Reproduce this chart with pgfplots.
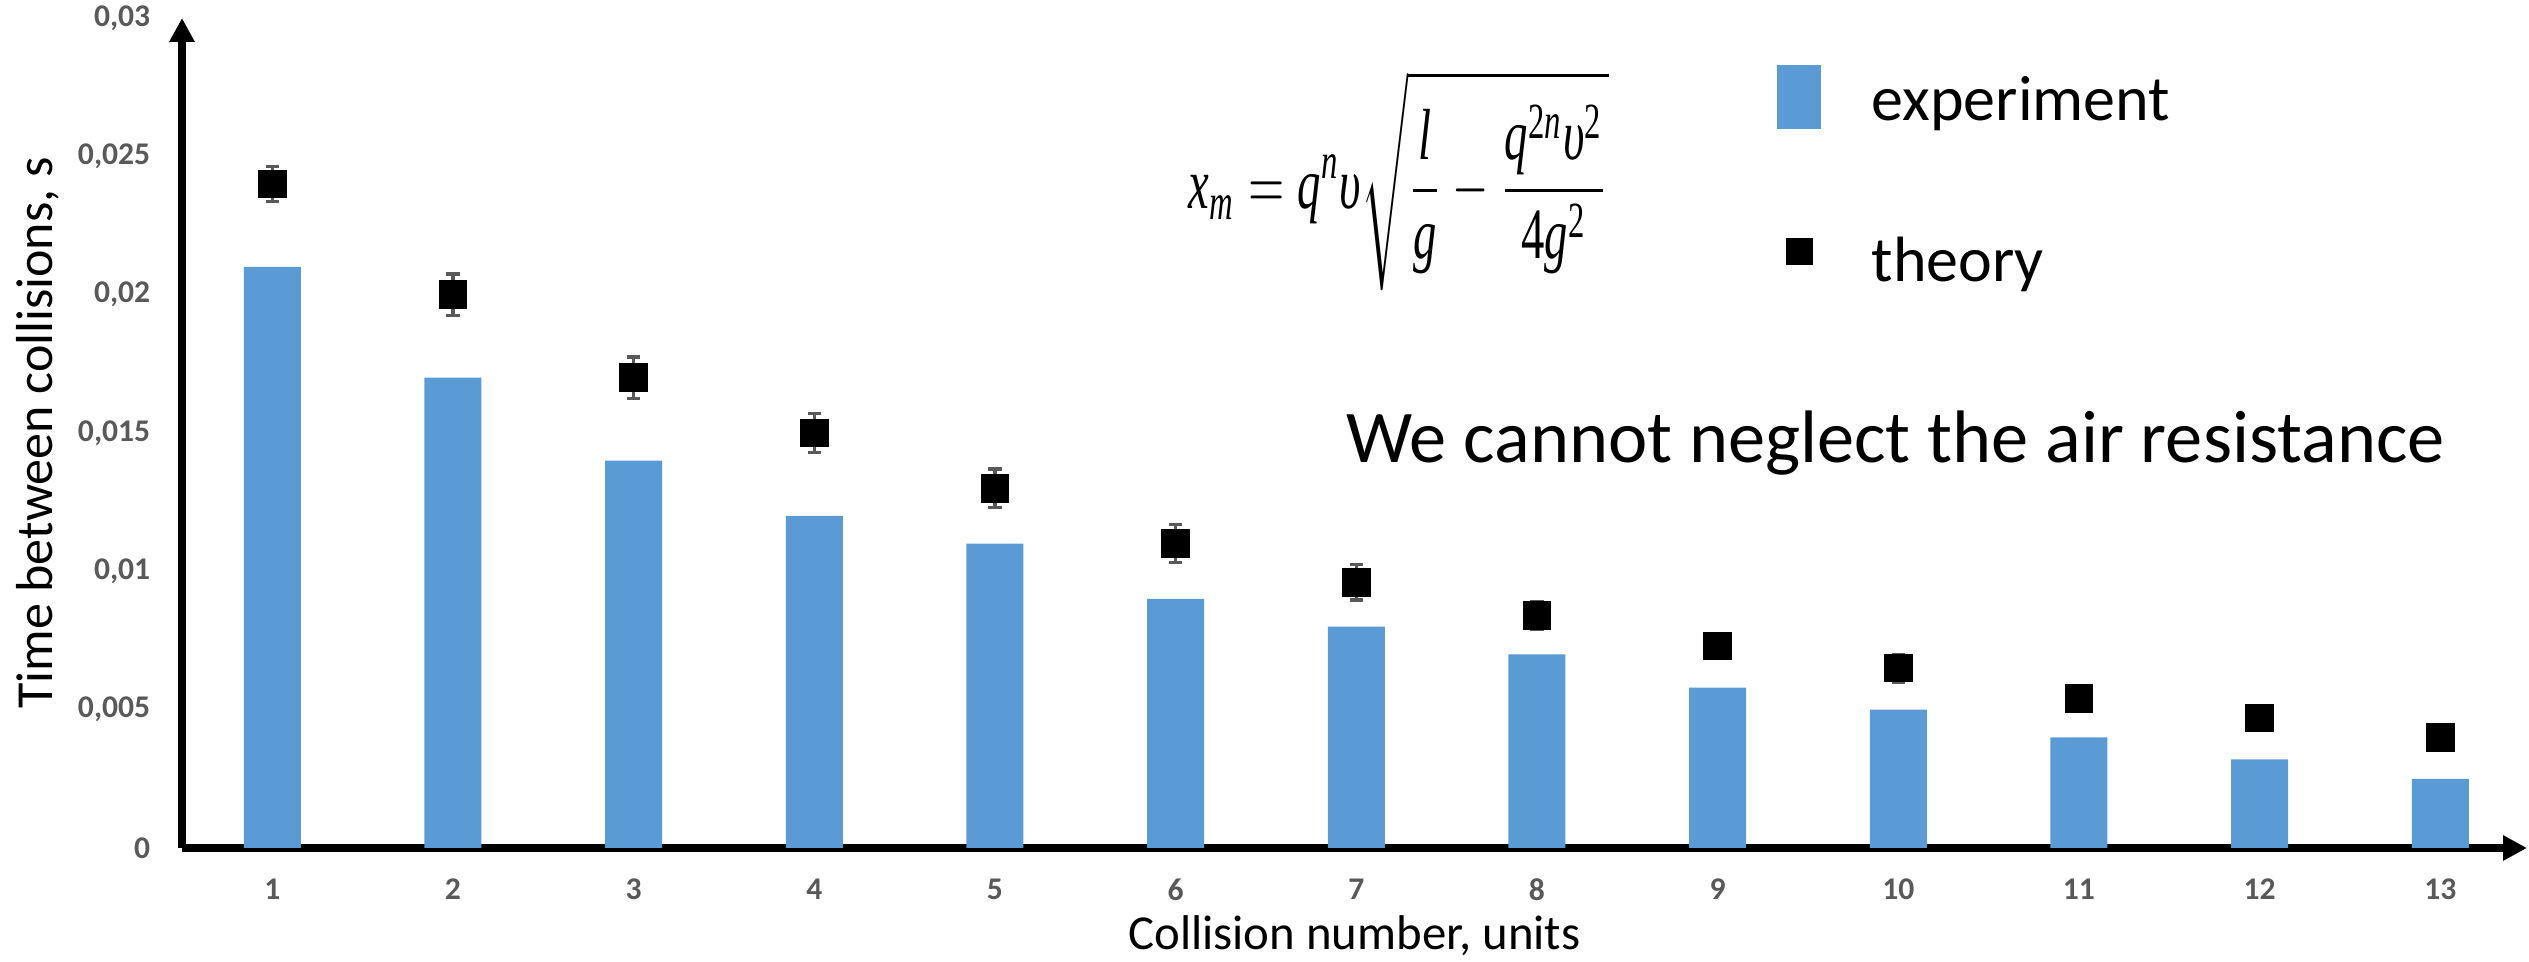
\documentclass[border=0pt]{standalone}
\usepackage{amsmath}
\usepackage{pgfplots}
\pgfplotsset{compat=1.18}
\usepackage{fontspec}
\setmainfont{Carlito}
\newfontfamily\tms{Liberation Serif}
\usepackage{graphicx}
\usetikzlibrary{arrows.meta}
\definecolor{barblue}{HTML}{5B9BD5}
\definecolor{tickgray}{HTML}{595959}
\newcommand\ti[1]{\text{\tms\itshape #1}}
\newcommand\tu[1]{\text{\tms #1}}

\begin{document}
\begin{tikzpicture}
\begin{axis}[
  name=ax,
  scale only axis,
  width=586.25pt, height=207.5pt,
  xmin=0.5, xmax=13.48,
  ymin=0, ymax=0.03,
  axis lines=left,
  axis line style={line width=2pt, -{Triangle[length=6pt,width=6pt]}},
  xtick={1,...,13},
  ytick={0,0.005,0.01,0.015,0.02,0.025,0.03},
  major tick length=0pt,
  scaled y ticks=false,
  yticklabel style={anchor=east, inner xsep=7.75pt, /pgf/number format/use comma, /pgf/number format/fixed,
    /pgf/number format/precision=3, /pgf/number format/assume math mode=true},
  xticklabel style={anchor=north, inner ysep=0pt, yshift=-7.5pt, /pgf/number format/assume math mode=true},
  tick label style={font=\bfseries\fontsize{7.9}{9}\selectfont, text=tickgray},
  xlabel={Collision number, units},
  ylabel={Time between collisions, s},
  xlabel style={at={(axis description cs:0.5,-0.1217)}, anchor=base, inner sep=0pt, font=\fontsize{12.2}{15}\selectfont},
  ylabel style={at={(axis description cs:-0.0554,0.5)}, anchor=base, font=\fontsize{13}{15}\selectfont},
  clip=false,
  legend cell align=left,
  legend style={at={(axis description cs:0.6797,0.9446)}, anchor=north west, draw=none, fill=none,
    inner sep=0pt, row sep=26.5pt, font=\fontsize{16}{19}\selectfont,
    nodes={inner sep=0pt, text height=9pt, text depth=3pt},
    /tikz/every odd column/.append style={column sep=12.75pt}},
]
\addplot[ybar, bar width=14.25pt, fill=barblue, draw=none,
  legend image code/.code={\fill[barblue] (0pt,-5.1pt) rectangle (11pt,10.9pt);}]
  coordinates {(1,0.021) (2,0.017) (3,0.014) (4,0.012) (5,0.011) (6,0.009) (7,0.008)
               (8,0.007) (9,0.0058) (10,0.005) (11,0.004) (12,0.0032) (13,0.0025)};
\addlegendentry{experiment}
\addplot[only marks, mark=square*, mark size=3.375pt, color=black,
  legend image code/.code={\fill[black] (2.6pt,1.3pt) rectangle (8.85pt,7.55pt);},
  error bars/.cd, y dir=both, y explicit,
  error bar style={color=tickgray, line width=0.8pt},
  error mark options={rotate=90, mark size=1.7pt, line width=0.8pt, tickgray}]
  coordinates {(1,0.024) +- (0,0.00064)
               (2,0.020) +- (0,0.00075)
               (3,0.017) +- (0,0.00075)
               (4,0.015) +- (0,0.0007)
               (5,0.013) +- (0,0.0007)
               (6,0.011) +- (0,0.00068)
               (7,0.0096) +- (0,0.00064)
               (8,0.0084) +- (0,0.0005)
               (9,0.0073) +- (0,0.00045)
               (10,0.0065) +- (0,0.0005)
               (11,0.0054) +- (0,0.0003)
               (12,0.0047) +- (0,0.0003)
               (13,0.0040) +- (0,0.0003)};
\addlegendentry{theory}
\node[anchor=base west, font=\fontsize{18.6}{22}\selectfont] at (axis cs:6.866,0.013916) {We cannot neglect the air resistance};
\node at (axis cs:7.236,0.02411) {\resizebox*{105pt}{55pt}{$\displaystyle \ti{x}_{\ti{m}} = \ti{q}^{\ti{n}}\ti{υ}\sqrt{\frac{\ti{l}}{\ti{g}}-\frac{\ti{q}^{\tu{2}\ti{n}}\ti{υ}^{\tu{2}}}{\tu{4}\ti{g}^{\tu{2}}}}$}};
\end{axis}
\pgfresetboundingbox
\path ([shift={(-45.5pt,-28.5pt)}]ax.south west) rectangle ([shift={(0.5pt,4.5pt)}]ax.north east);
\end{tikzpicture}
\end{document}
